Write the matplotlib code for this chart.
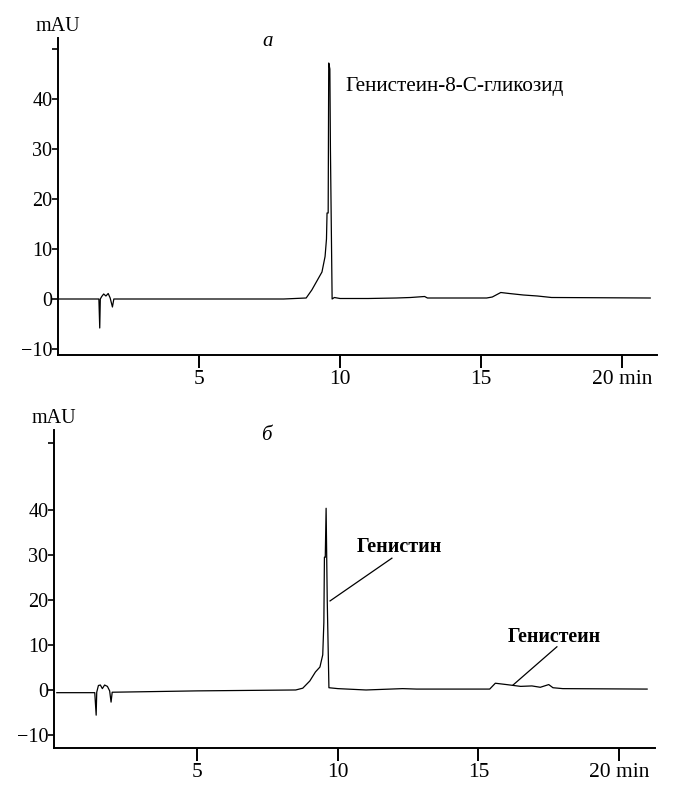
import matplotlib
matplotlib.use('Agg')
import matplotlib.pyplot as plt

plt.rcParams['font.family'] = ['Liberation Serif', 'DejaVu Serif']

# trace a (time, mAU)
t_a = [0.0, 1.45, 1.48, 1.50, 1.55, 1.62, 1.70, 1.78, 1.85, 1.93, 1.98, 3.0, 5.0, 8.0,
       8.8, 9.0, 9.2, 9.36, 9.47, 9.52, 9.54, 9.58, 9.60, 9.64, 9.66, 9.72, 9.8, 10.0,
       11.0, 12.0, 12.5, 13.0, 13.1, 15.2, 15.4, 15.7, 16.0, 16.5, 17.0, 17.5, 21.0]
y_a = [0.0, 0.0, -5.8, 0.0, 0.5, 1.0, 0.6, 1.1, 0.2, -1.6, 0.0, 0.0, 0.0, 0.0,
       0.2, 1.8, 3.8, 5.4, 8.5, 12.0, 17.2, 17.2, 47.2, 46.0, 30.0, 0.0, 0.3, 0.1,
       0.1, 0.2, 0.3, 0.5, 0.2, 0.2, 0.4, 1.3, 1.1, 0.8, 0.6, 0.3, 0.2]

# trace b
t_b = [0.0, 1.35, 1.40, 1.42, 1.48, 1.55, 1.62, 1.70, 1.80, 1.88, 1.93, 1.97, 3.0, 5.0,
       8.5, 8.75, 9.0, 9.2, 9.36, 9.46, 9.50, 9.52, 9.55, 9.58, 9.62, 9.68, 10.0,
       11.0, 12.3, 12.8, 15.4, 15.6, 16.0, 16.5, 16.9, 17.2, 17.5, 17.65, 18.0, 21.0]
y_b = [-0.6, -0.6, -5.6, -0.5, 1.0, 1.1, 0.3, 1.1, 0.8, -0.2, -2.7, -0.5, -0.4, -0.2,
       0.0, 0.4, 2.0, 4.0, 5.1, 7.8, 15.0, 29.5, 29.5, 40.4, 20.0, 0.5, 0.3,
       0.0, 0.3, 0.2, 0.2, 1.5, 1.2, 0.8, 0.9, 0.6, 1.2, 0.5, 0.3, 0.2]

yticks_a = [-10, 0, 10, 20, 30, 40, 50]
yticks_b = [-10, 0, 10, 20, 30, 40, 55]
xticks = [5, 10, 15, 20]
xlabels = ['5', '10', '15', '20 min']

fig = plt.figure(figsize=(6.74, 7.85), dpi=100)
ax1 = fig.add_axes([58 / 674, 1 - 355 / 785, 599 / 674, 317 / 785])
ax2 = fig.add_axes([54 / 674, 1 - 748 / 785, 601 / 674, 318 / 785])


def style(ax, yticks, xlim, ylim):
    ax.set_xlim(*xlim)
    ax.set_ylim(*ylim)
    for s in ['top', 'right']:
        ax.spines[s].set_visible(False)
    for s in ['left', 'bottom']:
        ax.spines[s].set_linewidth(1.4)
    ax.set_yticks(yticks)
    labs = []
    for v in yticks:
        if v >= 50:
            labs.append('')
        elif v < 0:
            labs.append('\u2212' + str(-v))
        else:
            labs.append(str(v))
    ax.set_yticklabels(labs)
    ax.set_xticks(xticks)
    ax.set_xticklabels(xlabels)
    ax.tick_params(axis='y', length=4, width=1.2, labelsize=14.5, pad=0)
    ax.tick_params(axis='x', length=9, width=1.4, labelsize=15.5, pad=2)
    ax.text(0.0, 1.005, 'mAU', transform=ax.transAxes, fontsize=14.5, ha='center', va='bottom')


ax1.plot(t_a, y_a, color='black', lw=0.9)
style(ax1, yticks_a, (0, 21.24), (-11.2, 52.2))
ax1.text(10.18, 42.4, 'Генистеин-8-С-гликозид', fontsize=15.3, va='center')
ax1.text(7.45, 51.5, 'а', fontsize=15, style='italic', ha='center', va='center')

ax2.plot(t_b, y_b, color='black', lw=0.9)
style(ax2, yticks_b, (-0.1, 21.28), (-12.9, 57.8))
ax2.text(10.68, 31.8, 'Генистин', fontsize=14.5, fontweight='bold', va='center')
ax2.plot([11.92, 9.72], [29.3, 19.8], color='black', lw=0.9)
ax2.text(16.05, 11.8, 'Генистеин', fontsize=14.3, fontweight='bold', va='center')
ax2.plot([17.79, 16.23], [9.6, 1.1], color='black', lw=0.9)
ax2.text(7.45, 56.5, 'б', fontsize=15, style='italic', ha='center', va='center')

fig.savefig('out.png', dpi=100)
